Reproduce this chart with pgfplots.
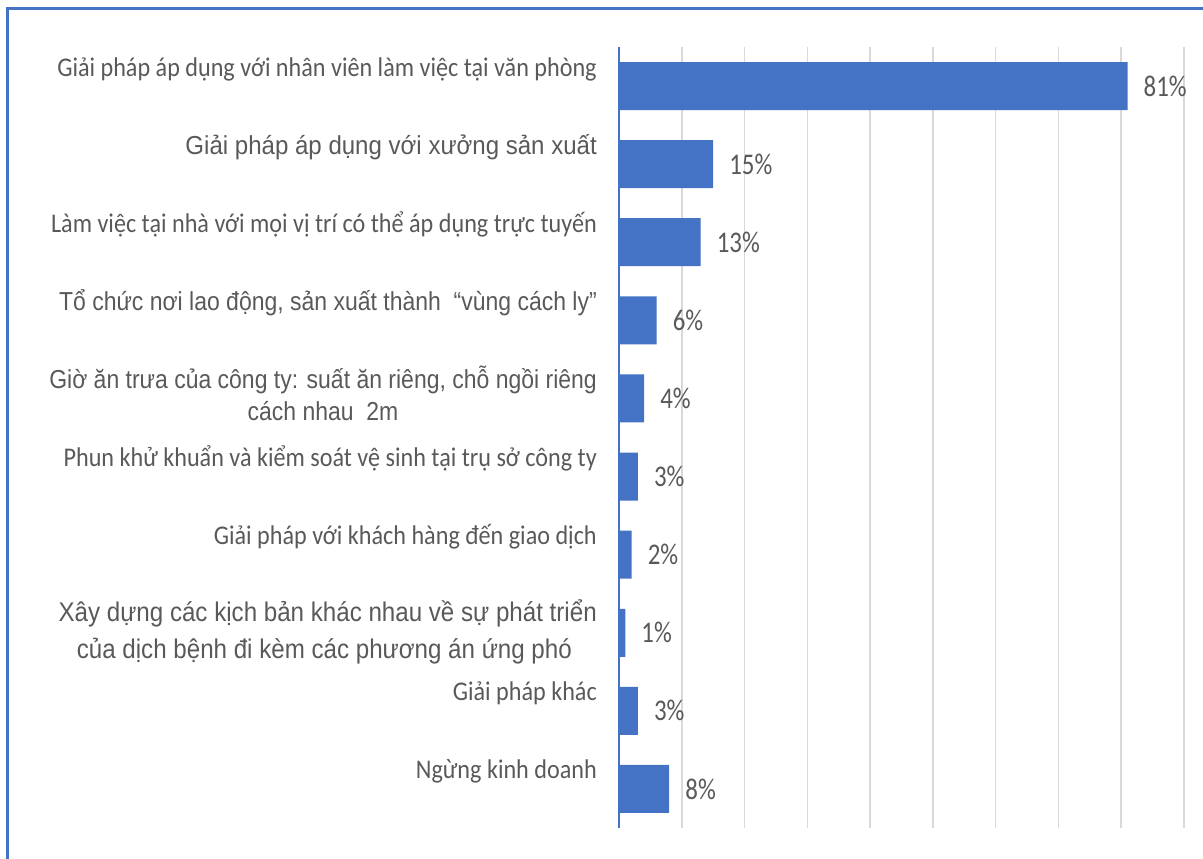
\documentclass[border=0pt]{standalone}
\usepackage{pgfplots}
\usepackage{pgfplotstable}
\pgfplotsset{compat=1.18}
\usepackage{fontspec}
\setmainfont{Carlito}
\newfontfamily\ar{Liberation Sans}
\newfontfamily\ca{Carlito}
\definecolor{barblue}{HTML}{4472C4}
\definecolor{lblgray}{HTML}{595959}
\definecolor{gridgray}{HTML}{D9D9D9}
\newcommand{\Lc}[1]{\scalebox{0.895}[1]{\raisebox{10pt}[0pt][0pt]{\ca\fontsize{27}{32}\selectfont #1}}}
\newcommand{\La}[2][0.884]{\scalebox{#1}[1]{\raisebox{10pt}[0pt][0pt]{\ar\fontsize{26}{31}\selectfont #2}}}
\pgfplotstableread{
idx val
0 81
1 15
2 13
3 6
4 4
5 3
6 2
7 1
8 3
9 8
}\datatable
\begin{document}
\begin{tikzpicture}[x=1pt,y=1pt]
\useasboundingbox (0,0) rectangle (1203,859);
\draw[barblue, line width=3pt] (7,0) -- (7,850) -- (1203,850);
\begin{axis}[
  at={(619pt,31pt)}, anchor=south west,
  scale only axis, width=565pt, height=781pt,
  xbar, bar width=48pt,
  xmin=0, xmax=90, ymin=-0.5, ymax=9.5, y dir=reverse,
  xtick={0,10,...,90}, xticklabels={,,,,,,,,,},
  xmajorgrids, grid style={gridgray, line width=1.6pt},
  extra x ticks={0}, extra x tick labels={},
  extra x tick style={grid style={barblue, line width=2pt}},
  major tick length=0pt,
  axis line style={draw=none},
  ytick={0,...,9},
  yticklabels={
    {\Lc{Giải pháp áp dụng với nhân viên làm việc tại văn phòng}},
    {\La[0.925]{Giải pháp áp dụng với xưởng sản xuất}},
    {\Lc{Làm việc tại nhà với mọi vị trí có thể áp dụng trực tuyến}},
    {\La{Tổ chức nơi lao động, sản xuất thành \ “vùng cách ly”}},
    {\scalebox{0.884}[1]{\ar\fontsize{26}{32}\selectfont\begin{tabular}{@{}c@{}}Giờ ăn trưa của công ty: suất ăn riêng, chỗ ngồi riêng\\cách nhau \ 2m\end{tabular}}},
    {\Lc{Phun khử khuẩn và kiểm soát vệ sinh tại trụ sở công ty}},
    {\Lc{Giải pháp với khách hàng đến giao dịch}},
    {\raisebox{4pt}{\scalebox{0.894}[1]{\ar\fontsize{27}{37}\selectfont\begin{tabular}{@{}c@{}}Xây dựng các kịch bản khác nhau về sự phát triển\\của dịch bệnh đi kèm các phương án ứng phó\ \ \end{tabular}}}},
    {\Lc{Giải pháp khác}},
    {\Lc{Ngừng kinh doanh}}
  },
  yticklabel style={anchor=east, inner sep=0pt, xshift=-22pt, text=lblgray},
  /pgf/number format/assume math mode=true,
  nodes near coords={\scalebox{0.83}[1]{\pgfmathprintnumber{\pgfplotspointmeta}\%}},
  nodes near coords style={font=\ca\fontsize{30}{34}\selectfont, text=lblgray, anchor=west, inner sep=0pt, xshift=16pt},
  point meta=x,
  clip=false,
]
\addplot[fill=barblue, draw=none] table[x=val, y=idx]{\datatable};
\end{axis}
\end{tikzpicture}
\end{document}
